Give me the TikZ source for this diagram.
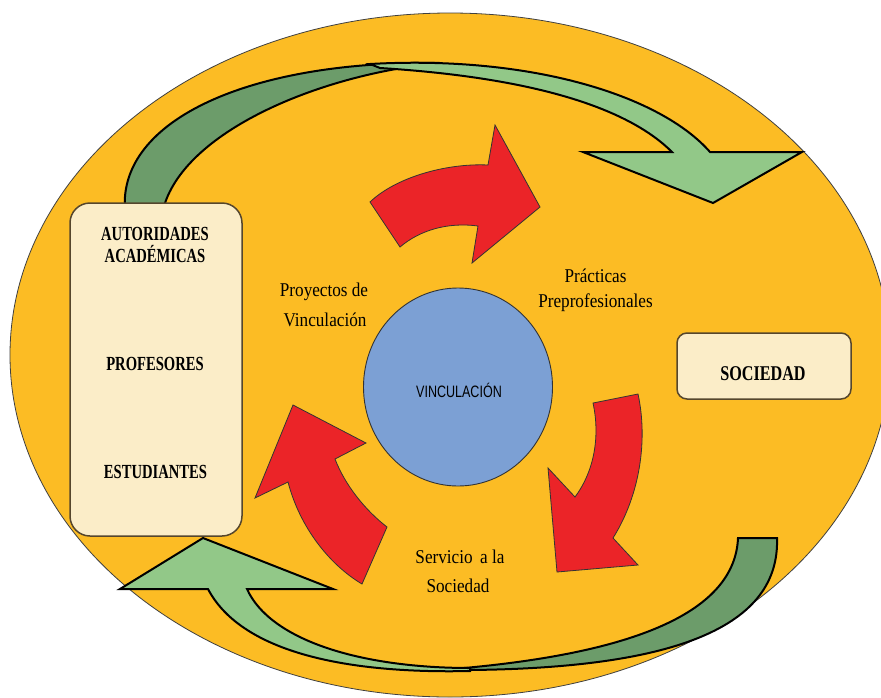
\documentclass[tikz,border=0pt]{standalone}
\usepackage{fontspec}
\setmainfont{Liberation Serif}
\newfontfamily\cserif[FakeStretch=0.88]{Liberation Serif}
\newfontfamily\cbold[FakeStretch=0.73]{Liberation Serif}
\newfontfamily\cboldsoc[FakeStretch=0.77]{Liberation Serif}
\newfontfamily\csans[FakeStretch=0.76]{Liberation Sans}
\usetikzlibrary{shapes.geometric}
\definecolor{bgorange}{RGB}{252,188,36}
\definecolor{cream}{RGB}{251,237,200}
\definecolor{boxline}{RGB}{85,70,45}
\definecolor{arrowred}{RGB}{235,36,40}
\definecolor{lightgreen}{RGB}{146,200,136}
\definecolor{darkgreen}{RGB}{108,156,106}
\definecolor{circblue}{RGB}{124,160,212}
\begin{document}
\begin{tikzpicture}[x=1pt,y=-1pt,
  creambox/.style={draw=boxline, line width=1.5pt, fill=cream, inner sep=0pt},
  redarrow/.style={fill=arrowred, draw=black!80, line width=0.8pt, line join=miter},
  greenlight/.style={fill=lightgreen, draw=black, line width=2pt, line join=miter},
  greendark/.style={fill=darkgreen, draw=black, line width=2pt, line join=miter},
  boldtxt/.style={font=\cbold\bfseries\fontsize{20}{24}\selectfont, inner sep=0pt, anchor=base},
  captxt/.style={font=\cserif\fontsize{19.5}{24}\selectfont, inner sep=0pt, anchor=base},
]
\useasboundingbox (0,0) rectangle (881,697);
\fill[white] (0,0) rectangle (881,697);
\begin{scope}
  \clip (0,0) rectangle (881,697);
  \draw[fill=bgorange, draw=black!75, line width=0.8pt] (450,355) ellipse [x radius=440, y radius=342];
\end{scope}

% top green arrow
\draw[greendark] (125,210) .. controls (118,120) and (250,60) .. (440,63)
  .. controls (320,74) and (182,132) .. (163,210) -- cycle;
\draw[greenlight] (370,64) .. controls (530,55) and (660,95) .. (710,152)
  -- (802,152) -- (713,203) -- (583,152) -- (672,152)
  .. controls (630,110) and (540,78) .. (380,68) -- cycle;

% bottom green arrow
\draw[greendark] (777,538) .. controls (780,625) and (680,672) .. (440,670)
  .. controls (640,655) and (735,610) .. (738,538) -- cycle;
\draw[greenlight] (470,668) .. controls (360,668) and (270,640) .. (247,589)
  -- (333,589) -- (203,538) -- (120,589) -- (208,589)
  .. controls (240,650) and (340,674) .. (470,671) -- cycle;

% boxes
\node[creambox, rounded corners=20pt, minimum width=172pt, minimum height=333pt] (actores) at (156,369.5) {};
\node[creambox, rounded corners=10pt, minimum width=174pt, minimum height=66pt] (soc) at (764,366) {};

% red arrows
\draw[redarrow] (370,202) .. controls (395,178) and (445,163) .. (488,165)
  -- (495,125) -- (540,207) -- (472,263) -- (478,226)
  .. controls (448,222) and (420,230) .. (400,247) -- cycle;
\draw[redarrow] (638,394) .. controls (648,440) and (640,495) .. (613,538)
  -- (638,565) -- (557,572) -- (548,468) -- (575,497)
  .. controls (595,470) and (600,435) .. (593,403) -- cycle;
\draw[redarrow] (362,584) .. controls (330,565) and (300,528) .. (288,482)
  -- (255,498) -- (293,405) -- (366,443) -- (335,459)
  .. controls (345,485) and (365,510) .. (387,527) -- cycle;

% centre
\node[ellipse, draw=black!80, line width=0.9pt, fill=circblue, minimum width=189pt, minimum height=198pt] (vinc) at (458,387) {};
\node[font=\csans\fontsize{16.5}{18}\selectfont, inner sep=0pt, anchor=base] (vinctxt) at (459,397.5) {VINCULACIÓN};

% texts
\node[boldtxt] (t1) at (155,240) {AUTORIDADES};
\node[boldtxt] (t2) at (155,262) {ACADÉMICAS};
\node[boldtxt] (t3) at (155,370) {PROFESORES};
\node[boldtxt] (t4) at (155.5,478) {ESTUDIANTES};
\node[font=\cboldsoc\bfseries\fontsize{21}{24}\selectfont, inner sep=0pt, anchor=base] (soctxt) at (763,380) {SOCIEDAD};

\node[captxt] (p1) at (324,296) {Proyectos de};
\node[captxt] (p2) at (325,326) {Vinculación};
\node[captxt] (q1) at (595.5,282) {Prácticas};
\node[captxt] (q2) at (595.5,307) {Preprofesionales};
\node[captxt] (s1) at (460,563) {Servicio\, a la};
\node[captxt] (s2) at (458,592) {Sociedad};
\end{tikzpicture}
\end{document}
